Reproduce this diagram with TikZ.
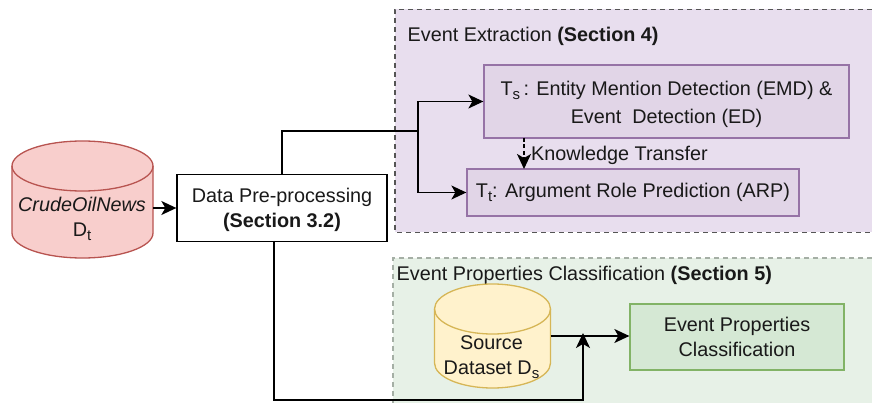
\documentclass[tikz,border=0pt]{standalone}
\usepackage{fontspec}
\setmainfont{Liberation Sans}
\usetikzlibrary{arrows.meta}
\definecolor{regA}{RGB}{232,222,238}
\definecolor{regAd}{RGB}{85,85,85}
\definecolor{regB}{RGB}{231,241,231}
\definecolor{regBd}{RGB}{165,175,165}
\definecolor{purF}{RGB}{225,213,231}
\definecolor{purD}{RGB}{150,115,166}
\definecolor{grnF}{RGB}{213,232,212}
\definecolor{grnD}{RGB}{130,179,102}
\definecolor{redF}{RGB}{248,206,204}
\definecolor{redD}{RGB}{184,84,80}
\definecolor{yelF}{RGB}{255,242,204}
\definecolor{yelD}{RGB}{214,182,86}
\definecolor{txt}{RGB}{25,25,25}
\newcommand{\sbs}[1]{\raisebox{-0.35ex}{\fontsize{15}{15}\selectfont #1}}
\begin{document}
\begin{tikzpicture}[x=1pt,y=-1pt,
 regionbox/.style={draw=#1,line width=1.2pt,dash pattern=on 5pt off 4pt},
 boxed/.style={draw=#1,line width=1.3pt,align=center,inner sep=0pt},
 conn/.style={draw=black,line width=1.4pt},
 arr/.style={conn,-{Stealth[length=15pt,width=14pt,inset=4pt]}},
 lab/.style={font=\fontsize{19.8}{25}\selectfont,align=center,inner sep=0pt,text=txt},
 cyl/.style={line width=1.3pt}]
\useasboundingbox (0,0) rectangle (872,403);
\fill[white] (0,0) rectangle (872,403);
\fill[regA] (395,9.5) rectangle (872,232.5);
\draw[regionbox=regAd] (872,9.5) -- (395,9.5) -- (395,232.5) -- (872,232.5);
\fill[regB] (393,258) rectangle (872,403);
\draw[regionbox=regBd] (872,258) -- (393,258) -- (393,403);
\node[lab,anchor=west] (t1) at (407.5,36.5) {Event Extraction \textbf{(Section 4)}};
\node[lab,anchor=west] (t2) at (396.5,275) {Event Properties Classification \textbf{(Section 5)}};
% boxes
\node[boxed=purD,fill=purF,minimum width=365pt,minimum height=73pt,lab,font=\fontsize{19.8}{28}\selectfont] (ts) at (666.5,101.5) {\rule{0pt}{20pt}T\sbs{s}\,: Entity Mention Detection (EMD) \&\\Event\ \ Detection (ED)};
\node[boxed=purD,fill=purF,minimum width=332pt,minimum height=47pt,lab] (tt) at (633,192.5) {T\sbs{t}: Argument Role Prediction (ARP)};
\node[lab,anchor=west] (kt) at (531,155.5) {Knowledge Transfer};
\node[boxed=black,fill=white,minimum width=210pt,minimum height=67pt,lab] (dp) at (282,208) {\rule{0pt}{17.5pt}Data Pre-processing\\\textbf{(Section 3.2)}};
\node[boxed=grnD,fill=grnF,minimum width=214pt,minimum height=66pt,lab] (ep) at (737,337) {Event Properties\\Classification};
% cylinders
\draw[draw=redD,fill=redF,cyl]
 (12,166) -- (12,233) arc[x radius=70.5pt,y radius=25pt,start angle=180,end angle=360] -- (153,166)
 arc[x radius=70.5pt,y radius=25pt,start angle=0,end angle=180] -- cycle;
\draw[draw=redD,cyl] (12,166) arc[x radius=70.5pt,y radius=25pt,start angle=180,end angle=360];
\node[lab,minimum width=141pt,minimum height=116pt] (cn) at (82.5,199) {};
\node[lab] (cnt) at (82,219) {\textit{CrudeOilNews}\\D\sbs{t}};
\draw[draw=yelD,fill=yelF,cyl]
 (434.5,309) -- (434.5,363) arc[x radius=58pt,y radius=25pt,start angle=180,end angle=360] -- (550.5,309)
 arc[x radius=58pt,y radius=25pt,start angle=0,end angle=180] -- cycle;
\draw[draw=yelD,cyl] (434.5,309) arc[x radius=58pt,y radius=25pt,start angle=180,end angle=360];
\node[lab,minimum width=116pt,minimum height=105pt] (sd) at (492.5,336) {};
\node[lab] (sdt) at (491.5,357) {Source\\Dataset D\sbs{s}};
% connectors
\coordinate (jA) at (418,131);
\coordinate (jB) at (583,333);
\draw[arr] (cn.east |- dp.west) -- (dp.west);
\draw[conn] (dp.north -| 282,0) -- (282,131) -- (jA);
\draw[arr] (jA) -- (jA |- ts.west) -- (ts.west);
\draw[arr] (jA) -- (jA |- tt.west) -- (tt.west);
\draw[arr,dash pattern=on 4pt off 2.5pt] (524,138) -- (524,169);
\draw[arr] (sd.east) -- (sd.east -| ep.west);
\draw[arr] (274,241) -- (274,400) -- (583,400) -- (jB);
\end{tikzpicture}
\end{document}
